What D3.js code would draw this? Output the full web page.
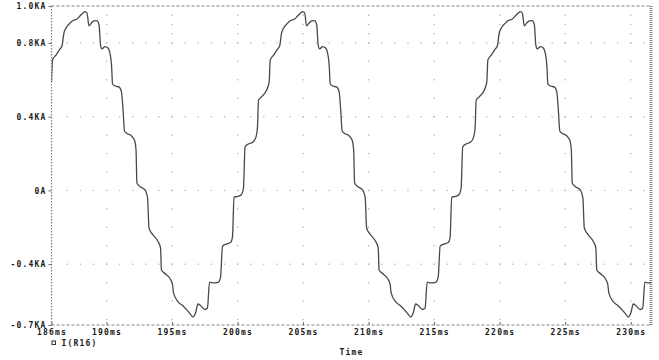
<!DOCTYPE html>
<html>
<head>
<meta charset="utf-8">
<script src="https://cdn.jsdelivr.net/npm/d3@7"></script>
<style>
  body { margin: 0; background: #fff; }
  .lbl { font-family: "DejaVu Sans Mono", monospace; font-size: 8px; font-weight: bold; letter-spacing: 1.2px; fill: #1a1a1a; }
</style>
</head>
<body>
<div id="chart"></div>
<script>

// ---- data (time in ms, current in KA) ----
var timeCycle1 = [185.80, 185.88, 186.14, 186.45, 186.60, 186.75, 186.91, 187.14, 187.44, 187.75,
  187.97, 188.20, 188.36, 188.51, 188.66, 188.85, 189.04, 189.27, 189.43, 189.54,
  189.65, 189.88, 190.11, 190.26, 190.38, 190.46, 190.65, 190.95, 191.14, 191.26,
  191.37, 191.56, 191.91, 192.13, 192.25, 192.32, 192.55, 192.94, 193.13, 193.24,
  193.55, 193.93, 194.12, 194.19, 194.46, 194.84, 195.03, 195.11, 195.45, 195.84,
  196.14, 196.37, 196.60, 196.79, 196.98, 197.17, 197.51, 197.70, 197.86, 198.12,
  198.51, 198.70, 198.85, 199.15, 199.46, 199.61, 199.73, 200.03, 200.30, 200.45,
  200.57, 200.83, 201.18, 201.41, 201.52, 201.60, 201.84, 202.22];
var currentCycle1 = [0.588, 0.707, 0.734, 0.767, 0.783, 0.854, 0.881, 0.902, 0.921, 0.929,
  0.946, 0.962, 0.970, 0.962, 0.892, 0.908, 0.919, 0.921, 0.897, 0.789,
  0.767, 0.780, 0.772, 0.745, 0.680, 0.577, 0.566, 0.561, 0.534, 0.436,
  0.322, 0.309, 0.295, 0.273, 0.219, 0.040, 0.021, 0.002, -0.041, -0.204,
  -0.242, -0.277, -0.312, -0.432, -0.451, -0.478, -0.508, -0.556, -0.603, -0.627,
  -0.649, -0.668, -0.687, -0.665, -0.616, -0.624, -0.646, -0.638, -0.497, -0.502,
  -0.499, -0.470, -0.302, -0.291, -0.283, -0.253, -0.036, -0.033, -0.022, 0.013,
  0.235, 0.252, 0.262, 0.290, 0.344, 0.490, 0.508, 0.544];

var timeCycle2 = [202.41, 202.49, 202.75, 203.06, 203.21, 203.36, 203.52, 203.75, 204.05, 204.36,
  204.58, 204.81, 204.97, 205.12, 205.27, 205.46, 205.65, 205.88, 206.04, 206.15,
  206.26, 206.49, 206.72, 206.87, 206.99, 207.07, 207.26, 207.56, 207.75, 207.87,
  207.98, 208.17, 208.52, 208.74, 208.86, 208.93, 209.16, 209.55, 209.74, 209.85,
  210.16, 210.54, 210.73, 210.80, 211.07, 211.45, 211.64, 211.72, 212.06, 212.45,
  212.75, 212.98, 213.21, 213.40, 213.59, 213.78, 214.12, 214.31, 214.47, 214.73,
  215.12, 215.31, 215.46, 215.76, 216.07, 216.22, 216.34, 216.64, 216.91, 217.06,
  217.18, 217.44, 217.79, 218.02, 218.13, 218.21, 218.45, 218.83];
var currentCycle2 = [0.588, 0.707, 0.734, 0.767, 0.783, 0.854, 0.881, 0.902, 0.921, 0.929,
  0.946, 0.962, 0.970, 0.962, 0.892, 0.908, 0.919, 0.921, 0.897, 0.789,
  0.767, 0.780, 0.772, 0.745, 0.680, 0.577, 0.566, 0.561, 0.534, 0.436,
  0.322, 0.309, 0.295, 0.273, 0.219, 0.040, 0.021, 0.002, -0.041, -0.204,
  -0.242, -0.277, -0.312, -0.432, -0.451, -0.478, -0.508, -0.556, -0.603, -0.627,
  -0.649, -0.668, -0.687, -0.665, -0.616, -0.624, -0.646, -0.638, -0.497, -0.502,
  -0.499, -0.470, -0.302, -0.291, -0.283, -0.253, -0.036, -0.033, -0.022, 0.013,
  0.235, 0.252, 0.262, 0.290, 0.344, 0.490, 0.508, 0.544];

var timeCycle3 = [219.02, 219.10, 219.36, 219.67, 219.82, 219.97, 220.13, 220.36, 220.66, 220.97,
  221.19, 221.42, 221.58, 221.73, 221.88, 222.07, 222.26, 222.49, 222.65, 222.76,
  222.87, 223.10, 223.33, 223.48, 223.60, 223.68, 223.87, 224.17, 224.36, 224.48,
  224.59, 224.78, 225.13, 225.35, 225.47, 225.54, 225.77, 226.16, 226.35, 226.46,
  226.77, 227.15, 227.34, 227.41, 227.68, 228.06, 228.25, 228.33, 228.67, 229.06,
  229.36, 229.59, 229.82, 230.01, 230.20, 230.39, 230.73, 230.92, 231.08, 231.34,
  231.73];
var currentCycle3 = [0.588, 0.707, 0.734, 0.767, 0.783, 0.854, 0.881, 0.902, 0.921, 0.929,
  0.946, 0.962, 0.970, 0.962, 0.892, 0.908, 0.919, 0.921, 0.897, 0.789,
  0.767, 0.780, 0.772, 0.745, 0.680, 0.577, 0.566, 0.561, 0.534, 0.436,
  0.322, 0.309, 0.295, 0.273, 0.219, 0.040, 0.021, 0.002, -0.041, -0.204,
  -0.242, -0.277, -0.312, -0.432, -0.451, -0.478, -0.508, -0.556, -0.603, -0.627,
  -0.649, -0.668, -0.687, -0.665, -0.616, -0.624, -0.646, -0.638, -0.497, -0.502,
  -0.499];

// axis ticks and labels
var xTickValues = [185.8, 190, 195, 200, 205, 210, 215, 220, 225, 230];
var xTickLabels = ["186ms", "190ms", "195ms", "200ms", "205ms", "210ms", "215ms", "220ms", "225ms", "230ms"];
var yTickValues = [-0.73, -0.4, 0, 0.4, 0.8, 1.0];
var yTickLabels = ["-0.7KA", "-0.4KA", "0A", "0.4KA", "0.8KA", "1.0KA"];
var xDomain = [185.8, 231.55];
var yDomain = [-0.73, 1.0];
var traceName = "I(R16)";
var xTitle = "Time";

// set the dimensions and margins of the graph
var margin = {top: 6, right: 8, bottom: 35, left: 51.5},
    width = 659 - margin.left - margin.right,
    height = 360 - margin.top - margin.bottom;

var svg = d3.select("#chart")
  .append("svg")
    .attr("width", 659)
    .attr("height", 360)
  .append("g")
    .attr("transform", "translate(" + margin.left + "," + margin.top + ")");

var x = d3.scaleLinear().domain(xDomain).range([0, width]);
var y = d3.scaleLinear().domain(yDomain).range([height, 0]);

// dotted grid (dots along the major lines)
var grid = svg.append("g").attr("fill", "#b5b5b5");
yTickValues.filter(function(v) { return v > -0.7 && v < 1.0; }).forEach(function(v) {
  d3.range(187, 232, 1).forEach(function(t) {
    grid.append("rect").attr("x", x(t) - 0.6).attr("y", y(v) - 0.6).attr("width", 1.3).attr("height", 1.3);
  });
});
xTickValues.slice(1).forEach(function(t) {
  d3.range(-0.7, 1.0, 0.1).concat([0.85, 0.95]).forEach(function(v) {
    grid.append("rect").attr("x", x(t) - 0.6).attr("y", y(v) - 0.6).attr("width", 1.3).attr("height", 1.3);
  });
});

// frame: dashed top / left / bottom, striped right edge
svg.append("line").attr("x1", 0).attr("x2", width).attr("y1", 0).attr("y2", 0)
  .attr("stroke", "#808080").attr("stroke-width", 1.2).attr("stroke-dasharray", "3,2");
svg.append("line").attr("x1", 0).attr("x2", width).attr("y1", height).attr("y2", height)
  .attr("stroke", "#808080").attr("stroke-width", 1.2).attr("stroke-dasharray", "3,2");
svg.append("line").attr("x1", 0).attr("x2", 0).attr("y1", 0).attr("y2", height)
  .attr("stroke", "#808080").attr("stroke-width", 1.2).attr("stroke-dasharray", "1.5,1.5");
svg.append("line").attr("x1", width).attr("x2", width).attr("y1", 0).attr("y2", height)
  .attr("stroke", "#8a8a8a").attr("stroke-width", 3).attr("stroke-dasharray", "1,1");

// Y axis
var yAxis = svg.append("g")
  .call(d3.axisLeft(y).tickValues(yTickValues)
    .tickFormat(function(d, i) { return yTickLabels[i]; })
    .tickSize(3).tickSizeOuter(0).tickPadding(2));
yAxis.select(".domain").remove();
yAxis.selectAll("line").attr("stroke", "#666");
yAxis.selectAll("text").attr("class", "lbl").attr("font-size", null).attr("font-family", null).attr("dy", "0.35em");

// X axis
var xAxis = svg.append("g")
  .attr("transform", "translate(0," + height + ")")
  .call(d3.axisBottom(x).tickValues(xTickValues)
    .tickFormat(function(d, i) { return xTickLabels[i]; })
    .tickSize(-3).tickSizeOuter(0).tickPadding(7));
xAxis.select(".domain").remove();
xAxis.selectAll("line").attr("stroke", "#666");
xAxis.selectAll("text").attr("class", "lbl").attr("font-size", null).attr("font-family", null).attr("dy", "0.35em");

// the trace, clipped to the plot area
svg.append("clipPath").attr("id", "plotclip")
  .append("rect").attr("x", 0).attr("y", 0).attr("width", width).attr("height", height);

var series = d3.zip(timeCycle1.concat(timeCycle2, timeCycle3),
                    currentCycle1.concat(currentCycle2, currentCycle3));

svg.append("path")
  .datum(series)
  .attr("clip-path", "url(#plotclip)")
  .attr("fill", "none")
  .attr("stroke", "#484848")
  .attr("stroke-width", 1.3)
  .attr("stroke-linejoin", "round")
  .attr("d", d3.line()
    .x(function(d) { return x(d[0]); })
    .y(function(d) { return y(d[1]); })
    .curve(d3.curveMonotoneX));

// legend and axis title
svg.append("rect")
  .attr("x", 0.5).attr("y", height + 16).attr("width", 3.5).attr("height", 3.5)
  .attr("fill", "none").attr("stroke", "#333").attr("stroke-width", 1);
svg.append("text").attr("class", "lbl")
  .attr("x", 10).attr("y", height + 21)
  .text(traceName);
svg.append("text").attr("class", "lbl")
  .attr("x", x(208.7)).attr("y", height + 30)
  .attr("text-anchor", "middle")
  .text(xTitle);

</script>
</body>
</html>
